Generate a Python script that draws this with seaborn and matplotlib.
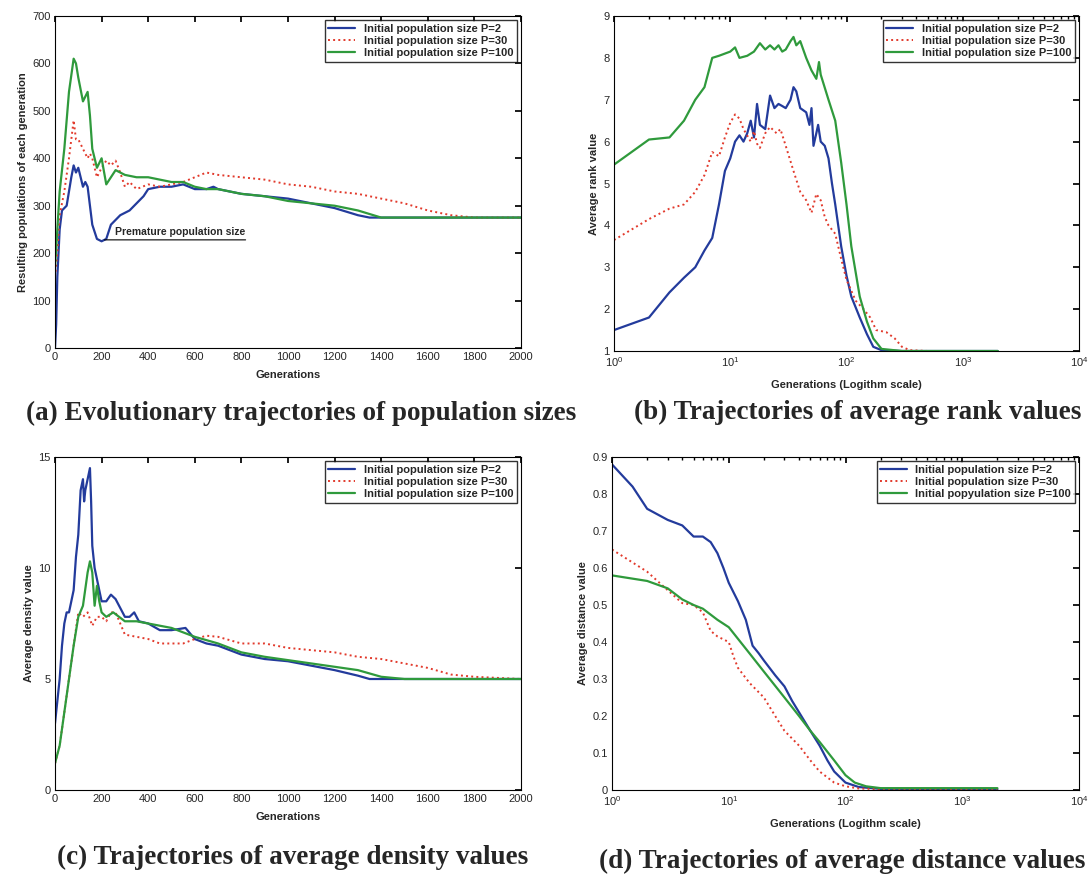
import numpy as np
import pandas as pd
import matplotlib
matplotlib.use("Agg")
import matplotlib.pyplot as plt
import seaborn as sns

# --------------------------------------------
# Data
# --------------------------------------------
labels = ["Initial population size P=2",
          "Initial population size P=30",
          "Initial population size P=100"]
labels_d = ["Initial population size P=2",
            "Initial population size P=30",
            "Initial popyulation size P=100"]

# (a) population sizes
a_blue_x = [0, 5, 10, 20, 30, 50, 60, 70, 80, 90, 100, 110, 120, 130, 140, 150, 160, 180, 200,
            220, 240, 260, 280, 300, 320, 340, 360, 380, 400, 450, 500, 550, 600, 650, 680, 700,
            800, 900, 1000, 1100, 1200, 1300, 1350, 1400, 1600, 1800, 2000]
a_blue_y = [0, 50, 150, 250, 290, 300, 330, 360, 385, 370, 380, 360, 340, 350, 340, 300, 260, 230, 225,
            230, 260, 270, 280, 285, 290, 300, 310, 320, 335, 340, 340, 345, 335, 335, 340, 335,
            325, 320, 315, 305, 295, 280, 275, 275, 275, 275, 275]
a_red_x = [0, 10, 20, 40, 60, 80, 90, 100, 120, 140, 150, 160, 180, 200, 220, 240, 260, 280, 300,
           320, 350, 400, 450, 500, 550, 600, 650, 700, 800, 900, 1000, 1100, 1200, 1300, 1400,
           1500, 1600, 1700, 1800, 2000]
a_red_y = [150, 200, 280, 330, 400, 480, 440, 440, 420, 400, 410, 400, 360, 380, 395, 385, 395, 370, 340,
           350, 335, 345, 340, 345, 350, 360, 370, 365, 360, 355, 345, 340, 330, 325, 315,
           305, 290, 280, 275, 275]
a_green_x = [0, 10, 20, 40, 60, 80, 90, 100, 120, 140, 150, 160, 180, 200, 220, 240, 260, 280, 300,
             350, 400, 450, 500, 550, 600, 650, 700, 800, 900, 1000, 1100, 1200, 1300, 1400, 1600, 2000]
a_green_y = [170, 250, 330, 420, 540, 610, 600, 570, 520, 540, 490, 420, 380, 400, 345, 360, 375, 370, 365,
             360, 360, 355, 350, 350, 340, 335, 335, 325, 320, 310, 305, 300, 290, 275, 275, 275]

# (b) average rank values (log x)
b_blue_x = [1, 2, 3, 4, 5, 6, 7, 8, 9, 10, 11, 12, 13, 14, 15, 16, 17, 18, 20, 22, 24, 26, 28, 30, 33,
            35, 37, 40, 45, 48, 50, 52, 55, 57, 60, 65, 70, 75, 80, 90, 100, 110, 130, 150, 170,
            200, 300, 2000]
b_blue_y = [1.5, 1.8, 2.4, 2.75, 3.0, 3.4, 3.7, 4.5, 5.3, 5.6, 6.0, 6.15, 6.0, 6.2, 6.5, 6.1, 6.9, 6.4,
            6.3, 7.1, 6.8, 6.9, 6.85, 6.8, 7.0, 7.3, 7.2, 6.8, 6.7, 6.4, 6.8, 5.9, 6.2, 6.4, 6.0, 5.9,
            5.6, 5.0, 4.5, 3.5, 2.8, 2.3, 1.8, 1.4, 1.1, 1.02, 1.0, 1.0]
b_red_x = [1, 2, 3, 4, 5, 6, 7, 8, 9, 10, 11, 12, 13, 15, 16, 17, 18, 20, 22, 25, 27, 30, 35, 40, 45,
           50, 55, 60, 65, 70, 80, 90, 100, 120, 140, 160, 180, 220, 260, 300, 350, 500, 1000, 2000]
b_red_y = [3.65, 4.15, 4.4, 4.5, 4.8, 5.2, 5.75, 5.65, 6.1, 6.45, 6.65, 6.55, 6.3, 6.0, 6.25, 5.95, 5.85,
           6.2, 6.35, 6.2, 6.3, 5.9, 5.3, 4.8, 4.6, 4.3, 4.75, 4.6, 4.2, 4.0, 3.8, 3.2, 2.7, 2.2, 2.0,
           1.8, 1.5, 1.45, 1.3, 1.1, 1.02, 1.0, 1.0, 1.0]
b_green_x = [1, 2, 3, 4, 5, 6, 7, 8, 10, 11, 12, 14, 16, 18, 20, 22, 24, 26, 28, 30, 33, 35, 37, 40,
             45, 50, 55, 58, 60, 70, 80, 90, 100, 110, 130, 150, 170, 200, 300, 2000]
b_green_y = [5.45, 6.05, 6.1, 6.5, 7.0, 7.3, 8.0, 8.05, 8.15, 8.25, 8.0, 8.05, 8.15, 8.35, 8.2, 8.3, 8.2,
             8.3, 8.15, 8.2, 8.4, 8.5, 8.3, 8.4, 8.0, 7.7, 7.5, 7.9, 7.6, 7.0, 6.5, 5.5, 4.5, 3.5, 2.3,
             1.7, 1.3, 1.05, 1.0, 1.0]

# (c) average density values
c_blue_x = [0, 10, 20, 30, 40, 50, 60, 70, 80, 90, 100, 110, 120, 125, 130, 140, 150, 155, 160, 170,
            180, 200, 220, 240, 260, 280, 300, 320, 340, 360, 400, 450, 500, 560, 600, 650, 700, 800,
            900, 1000, 1100, 1200, 1300, 1350, 2000]
c_blue_y = [3, 4, 5, 6.5, 7.5, 8, 8, 8.5, 9, 10.5, 11.5, 13.5, 14, 13, 13.5, 14, 14.5, 13, 11, 10,
            9.5, 8.5, 8.5, 8.8, 8.6, 8.2, 7.8, 7.8, 8, 7.6, 7.5, 7.2, 7.2, 7.3, 6.8, 6.6, 6.5, 6.1,
            5.9, 5.8, 5.6, 5.4, 5.15, 5.0, 5.0]
c_red_x = [0, 20, 40, 60, 80, 100, 120, 140, 160, 180, 200, 220, 240, 260, 280, 300, 350, 400, 450,
           500, 550, 600, 650, 700, 800, 900, 1000, 1100, 1200, 1300, 1400, 1500, 1600, 1700, 1800,
           1900, 2000]
c_red_y = [1.2, 2, 3.5, 5, 6.5, 8, 7.8, 8, 7.4, 7.8, 7.8, 7.6, 8, 8.0, 7.5, 7, 6.9, 6.8, 6.6,
           6.6, 6.6, 6.8, 6.95, 6.9, 6.6, 6.6, 6.4, 6.3, 6.2, 6.0, 5.9, 5.7, 5.5, 5.2, 5.1,
           5.05, 5.0]
c_green_x = [0, 20, 40, 60, 80, 100, 120, 140, 150, 160, 170, 180, 190, 200, 220, 250, 300, 350, 400,
             450, 500, 600, 700, 800, 900, 1000, 1100, 1200, 1300, 1400, 1500, 2000]
c_green_y = [1.2, 2, 3.5, 5, 6.5, 7.8, 8.3, 9.8, 10.3, 9.8, 8.3, 9.2, 8.5, 8, 7.8, 8.0, 7.6, 7.6, 7.5,
             7.4, 7.3, 6.9, 6.6, 6.2, 6.0, 5.85, 5.7, 5.55, 5.4, 5.1, 5.0, 5.0]

# (d) average distance values (log x)
d_blue_x = [1, 1.5, 2, 3, 4, 5, 6, 7, 8, 9, 10, 12, 14, 16, 18, 20, 25, 30, 35, 40, 50, 60, 70, 80,
            100, 130, 200, 2000]
d_blue_y = [0.88, 0.82, 0.76, 0.73, 0.715, 0.685, 0.685, 0.67, 0.64, 0.6, 0.56, 0.51, 0.46, 0.39, 0.37,
            0.35, 0.31, 0.28, 0.24, 0.21, 0.16, 0.12, 0.08, 0.05, 0.02, 0.008, 0.003, 0.002]
d_red_x = [1, 2, 3, 4, 5, 6, 7, 8, 10, 11, 12, 15, 20, 25, 30, 40, 50, 60, 80, 100, 130, 200, 2000]
d_red_y = [0.65, 0.59, 0.54, 0.505, 0.5, 0.48, 0.43, 0.415, 0.4, 0.36, 0.33, 0.29, 0.25, 0.2, 0.16,
           0.12, 0.08, 0.05, 0.02, 0.01, 0.004, 0.002, 0.002]
d_green_x = [1, 2, 3, 4, 5, 6, 8, 10, 15, 20, 30, 40, 50, 60, 80, 100, 120, 150, 200, 2000]
d_green_y = [0.58, 0.565, 0.545, 0.515, 0.5, 0.49, 0.46, 0.44, 0.37, 0.32, 0.25, 0.2, 0.16, 0.13, 0.08,
             0.04, 0.02, 0.01, 0.005, 0.005]

colors = ["#233b9c", "#e23a2c", "#2f9a3c"]
styles = ["-", ":", "-"]

# --------------------------------------------
# Style
# --------------------------------------------
sns.set_theme(style="white")
plt.rcParams["font.family"] = ["Liberation Sans", "DejaVu Sans"]
plt.rcParams["axes.edgecolor"] = "black"
plt.rcParams["axes.linewidth"] = 0.8

W, H = 1089, 875
LBL = dict(fontsize=8, fontweight="bold")


def box(left, top, right, bottom):
    # figure-fraction rectangle from pixel edges
    return [left / W, 1 - bottom / H, (right - left) / W, (bottom - top) / H]


def draw(ax, series, legend_labels, logx=False):
    for (x, y), lab, c, ls in zip(series, legend_labels, colors, styles):
        df = pd.DataFrame({"x": x, "y": y})
        sns.lineplot(data=df, x="x", y="y", ax=ax, color=c, linestyle=ls,
                     linewidth=1.6 if ls == "-" else 1.4, label=lab, estimator=None)
    if logx:
        ax.set_xscale("log")
    ax.tick_params(which="both", direction="in", top=True, right=True,
                   labelsize=8, length=4, color="black", pad=3)
    ax.tick_params(which="minor", length=2)
    leg = ax.legend(loc="upper right", fancybox=False, edgecolor="black",
                    prop={"size": 8, "weight": "bold"}, borderpad=0.3,
                    labelspacing=0.2, handlelength=2.4, borderaxespad=0.4)
    leg.get_frame().set_linewidth(1.0)


fig = plt.figure(figsize=(W / 100, H / 100), dpi=100)

# (a)
ax_a = fig.add_axes(box(55, 16, 521, 348))
draw(ax_a, [(a_blue_x, a_blue_y), (a_red_x, a_red_y), (a_green_x, a_green_y)], labels)
ax_a.set_xlim(0, 2000)
ax_a.set_ylim(0, 700)
ax_a.set_xticks(range(0, 2001, 200))
ax_a.set_yticks(range(0, 701, 100))
ax_a.set_xlabel("Generations", labelpad=6, **LBL)
ax_a.set_ylabel("Resulting populations of each generation", labelpad=3, **LBL)
ax_a.text(258, 233, "Premature population size", fontsize=7.5, fontweight="bold", va="bottom")
ax_a.annotate("", xy=(200, 228), xytext=(830, 228),
              arrowprops=dict(arrowstyle="-", color="black", lw=0.8))

# (b)
ax_b = fig.add_axes(box(614, 16, 1079, 351))
draw(ax_b, [(b_blue_x, b_blue_y), (b_red_x, b_red_y), (b_green_x, b_green_y)], labels, logx=True)
ax_b.set_xlim(1, 1e4)
ax_b.set_ylim(1, 9)
ax_b.set_xlabel("Generations (Logithm scale)", labelpad=8, **LBL)
ax_b.set_ylabel("Average rank value", labelpad=3, **LBL)

# (c)
ax_c = fig.add_axes(box(55, 457, 521, 790))
draw(ax_c, [(c_blue_x, c_blue_y), (c_red_x, c_red_y), (c_green_x, c_green_y)], labels)
ax_c.set_xlim(0, 2000)
ax_c.set_ylim(0, 15)
ax_c.set_xticks(range(0, 2001, 200))
ax_c.set_yticks([0, 5, 10, 15])
ax_c.set_xlabel("Generations", labelpad=6, **LBL)
ax_c.set_ylabel("Average density value", labelpad=3, **LBL)

# (d)
ax_d = fig.add_axes(box(612, 457, 1079, 790))
draw(ax_d, [(d_blue_x, d_blue_y), (d_red_x, d_red_y), (d_green_x, d_green_y)], labels_d, logx=True)
ax_d.set_xlim(1, 1e4)
ax_d.set_ylim(0, 0.9)
ax_d.set_yticks(np.arange(0, 0.91, 0.1))
ax_d.set_yticklabels(["0", "0.1", "0.2", "0.3", "0.4", "0.5", "0.6", "0.7", "0.8", "0.9"])
ax_d.set_xlabel("Generations (Logithm scale)", labelpad=8, **LBL)
ax_d.set_ylabel("Average distance value", labelpad=3, **LBL)

# Panel captions
cap = dict(fontsize=19.5, fontweight="bold", family=["Liberation Serif", "DejaVu Serif"],
           ha="left", va="center")
fig.text(26 / W, 1 - 413 / H, "(a) Evolutionary trajectories of population sizes", **cap)
fig.text(634 / W, 1 - 412 / H, "(b) Trajectories of average rank values", **cap)
fig.text(57 / W, 1 - 857 / H, "(c) Trajectories of average density values", **cap)
fig.text(1085 / W, 1 - 861 / H, "(d) Trajectories of average distance values",
         **{**cap, "ha": "right"})

fig.savefig("out.png", dpi=100)
plt.close(fig)
